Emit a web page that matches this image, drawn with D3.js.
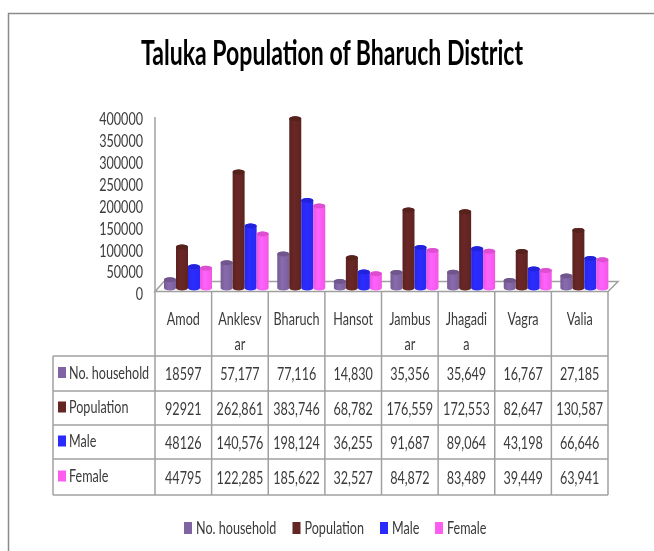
<!DOCTYPE html>
<html>
<head>
<meta charset="utf-8">
<script src="https://cdn.jsdelivr.net/npm/d3@7"></script>
<style>
    html, body { margin: 0; padding: 0; background: #fff; }
    svg { display: block; }
    text { font-family: Lato, "Liberation Sans", sans-serif; fill: #3a3a3a; }
</style>
</head>
<body>
<div id="chart"></div>
<script>
const title = 'Taluka Population of Bharuch District';
const talukas = ['Amod', 'Anklesvar', 'Bharuch', 'Hansot', 'Jambusar', 'Jhagadia', 'Vagra', 'Valia'];
const talukaLines = [['Amod'], ['Anklesv', 'ar'], ['Bharuch'], ['Hansot'], ['Jambus', 'ar'], ['Jhagadi', 'a'], ['Vagra'], ['Valia']];
const seriesNames = ['No. household', 'Population', 'Male', 'Female'];
const seriesColors = ['#8064a2', '#632523', '#2a2aff', '#ff5cf0'];
const households = [18597, 57177, 77116, 14830, 35356, 35649, 16767, 27185];
const population = [92921, 262861, 383746, 68782, 176559, 172553, 82647, 130587];
const male = [48126, 140576, 198124, 36255, 91687, 89064, 43198, 66646];
const female = [44795, 122285, 185622, 32527, 84872, 83489, 39449, 63941];
const yTicks = [0, 50000, 100000, 150000, 200000, 250000, 300000, 350000, 400000];

const seriesValues = [households, population, male, female];
const WIDTH = 654, HEIGHT = 551;
const GRID = '#a0a0a0';
const FONT_SIZE = 18;
const SQUEEZE = 0.7;
const TITLE_WIDTH = 382;

const svg = d3.select('#chart').append('svg')
    .attr('width', WIDTH)
    .attr('height', HEIGHT);

const defs = svg.append('defs');
defs.append('filter').attr('id', 'soft')
    .append('feGaussianBlur').attr('stdDeviation', 0.45);

// cylinder shading, one gradient per series
seriesColors.forEach((c, i) => {
    const g = defs.append('linearGradient').attr('id', `cyl${i}`);
    g.append('stop').attr('offset', '0%').attr('stop-color', d3.color(c).darker(0.25));
    g.append('stop').attr('offset', '40%').attr('stop-color', d3.color(c).brighter(0.2));
    g.append('stop').attr('offset', '100%').attr('stop-color', d3.color(c).darker(0.15));
});

const root = svg.append('g').attr('filter', 'url(#soft)');

// outer frame, only top and left are in the crop
root.append('path')
    .attr('d', `M8.5,${HEIGHT}V13.5H${WIDTH}`)
    .attr('fill', 'none')
    .attr('stroke', '#8a8a8a')
    .attr('stroke-width', 1.5);

const titleText = root.append('text')
    .attr('x', 332)
    .attr('y', 65)
    .attr('text-anchor', 'middle')
    .attr('font-size', 34)
    .attr('font-weight', 'bold')
    .style('fill', '#000')
    .text(title);

// scales
const x = d3.scaleBand().domain(talukas).range([155, 608]);
const inner = d3.scaleBand().domain(seriesNames).range([9, 57]);
const yBar = d3.scaleLinear().domain([0, 400000]).range([288, 111.5]);
const yAxis = d3.scaleLinear().domain([0, 400000]).range([294, 119]);

// floor of the 3d plot
root.append('path')
    .attr('d', `M155,291.5L164,281.5H618L608,291.5Z`)
    .attr('fill', '#fff')
    .attr('stroke', GRID)
    .attr('stroke-width', 1.5);

// value axis
const axisG = root.append('g')
    .attr('transform', 'translate(143,0)')
    .call(d3.axisLeft(yAxis).tickValues(yTicks).tickSize(0).tickPadding(0).tickFormat(d3.format('d')));
axisG.select('.domain').remove();
axisG.attr('font-family', null);
axisG.selectAll('text').attr('font-size', FONT_SIZE);

root.append('line')
    .attr('x1', 155).attr('x2', 155)
    .attr('y1', 117).attr('y2', 291.5)
    .attr('stroke', GRID)
    .attr('stroke-width', 1.5);

// bars
const rx = inner.bandwidth() / 2;
const ry = 2.5;
const cylinder = (x0, yTop) => {
    const x1 = x0 + 2 * rx;
    return `M${x0},${yBar(0)}V${yTop}A${rx},${ry} 0 0 1 ${x1},${yTop}V${yBar(0)}A${rx},${ry} 0 0 1 ${x0},${yBar(0)}Z`;
};

seriesNames.forEach((name, s) => {
    const group = root.append('g').attr('class', 'series');
    group.selectAll('path.bar')
        .data(seriesValues[s])
        .join('path')
        .attr('class', 'bar')
        .attr('d', (d, i) => cylinder(x(talukas[i]) + inner(name), yBar(d)))
        .attr('fill', `url(#cyl${s})`);
    group.selectAll('ellipse')
        .data(seriesValues[s])
        .join('ellipse')
        .attr('cx', (d, i) => x(talukas[i]) + inner(name) + rx)
        .attr('cy', d => yBar(d))
        .attr('rx', rx)
        .attr('ry', ry)
        .attr('fill', d3.color(seriesColors[s]).darker(0.4));
});

// data table
const tableLeft = 53, tableRight = 608;
const rowEdges = [356, 391, 425, 459, 495];
const table = root.append('g').attr('class', 'table');

table.selectAll('line.row')
    .data(rowEdges)
    .join('line')
    .attr('class', 'row')
    .attr('x1', tableLeft).attr('x2', tableRight)
    .attr('y1', d => d).attr('y2', d => d)
    .attr('stroke', GRID)
    .attr('stroke-width', 1.5);

table.selectAll('line.col')
    .data(talukas.map(d => x(d)).concat(tableRight))
    .join('line')
    .attr('class', 'col')
    .attr('x1', d => d).attr('x2', d => d)
    .attr('y1', 291.5).attr('y2', 495)
    .attr('stroke', GRID)
    .attr('stroke-width', 1.5);

table.append('line')
    .attr('x1', tableLeft).attr('x2', tableLeft)
    .attr('y1', 356).attr('y2', 495)
    .attr('stroke', GRID)
    .attr('stroke-width', 1.5);

// category header, wrapped the way the cells wrap
talukaLines.forEach((lines, i) => {
    const cx = x(talukas[i]) + x.bandwidth() / 2;
    table.selectAll(null)
        .data(lines)
        .join('text')
        .attr('x', cx)
        .attr('y', (d, j) => 325 + j * 25)
        .attr('text-anchor', 'middle')
        .attr('font-size', FONT_SIZE)
        .text(d => d);
});

// first column of the table has no thousands separator
const cellFormat = (v, i) => i === 0 ? String(v) : d3.format(',')(v);

seriesNames.forEach((name, s) => {
    const cy = (rowEdges[s] + rowEdges[s + 1]) / 2;
    table.append('rect')
        .attr('x', 58).attr('y', cy - 6.5)
        .attr('width', 8).attr('height', 11)
        .attr('fill', seriesColors[s]);
    table.append('text')
        .attr('x', 69).attr('y', cy - 1)
        .attr('dy', '0.35em')
        .attr('font-size', FONT_SIZE)
        .text(name);
    table.selectAll(null)
        .data(seriesValues[s])
        .join('text')
        .attr('x', (d, i) => x(talukas[i]) + x.bandwidth() / 2)
        .attr('y', cy + 0.5)
        .attr('dy', '0.35em')
        .attr('text-anchor', 'middle')
        .attr('font-size', FONT_SIZE)
        .text(cellFormat);
});

// legend
const legendX = d3.scaleOrdinal().domain(seriesNames).range([184, 292.5, 380, 435]);
const legend = root.append('g').attr('class', 'legend');
legend.selectAll('rect')
    .data(seriesNames)
    .join('rect')
    .attr('x', d => legendX(d)).attr('y', 522)
    .attr('width', 8).attr('height', 12)
    .attr('fill', (d, i) => seriesColors[i]);
legend.selectAll('text')
    .data(seriesNames)
    .join('text')
    .attr('x', d => legendX(d) + 12).attr('y', 534)
    .attr('font-size', FONT_SIZE)
    .text(d => d);

// no narrow font installed, so compress each text around its own x
function squeeze(sel, k) {
    sel.attr('transform', function() {
        const tx = +this.getAttribute('x') || 0;
        return `translate(${tx},0) scale(${k},1) translate(${-tx},0)`;
    });
}
squeeze(root.selectAll('text'), SQUEEZE);
squeeze(titleText, TITLE_WIDTH / titleText.node().getComputedTextLength());
</script>
</body>
</html>
